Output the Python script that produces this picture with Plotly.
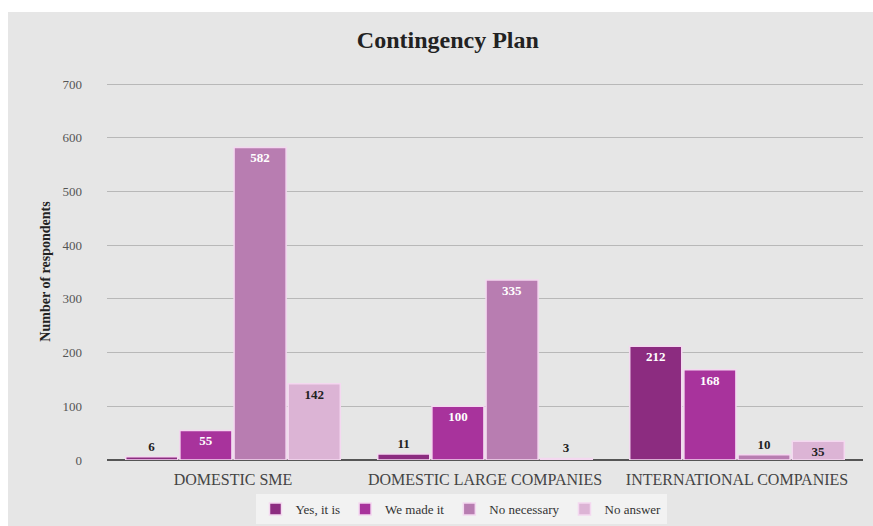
import plotly.graph_objects as go

categories = ["DOMESTIC SME", "DOMESTIC LARGE COMPANIES", "INTERNATIONAL COMPANIES"]
series_names = ["Yes, it is", "We made it", "No necessary", "No answer"]
yes_it_is = [6, 11, 212]
we_made_it = [55, 100, 168]
no_necessary = [582, 335, 10]
no_answer = [142, 3, 35]
y_ticks = [0, 100, 200, 300, 400, 500, 600, 700]

series_values = [yes_it_is, we_made_it, no_necessary, no_answer]
colors = ["#8c2c80", "#a8339c", "#b87db1", "#dcb4d5"]
label_dark = "#222222"
label_light = "#ffffff"

W, H = 873, 526
ml, mr, mt, mb = 107, 10, 83, 66

fig = go.Figure()
for name, vals, col in zip(series_names, series_values, colors):
    positions = []
    fcolors = []
    for v in vals:
        if v < 30:
            positions.append("outside")
            fcolors.append(label_dark)
        else:
            positions.append("inside")
            fcolors.append(label_dark if col == "#dcb4d5" else label_light)
    fig.add_trace(go.Bar(
        x=categories, y=vals, name=name,
        marker=dict(color=col, line=dict(color="#f4d8f0", width=1.5)),
        text=["<b>%d</b>" % v for v in vals],
        textposition=positions,
        textangle=0,
        insidetextanchor="end",
        constraintext="none",
        textfont=dict(family="Liberation Serif", size=13, color=fcolors),
        outsidetextfont=dict(family="Liberation Serif", size=13, color=label_dark),
        cliponaxis=False,
    ))

pw = W - ml - mr
ph = H - mt - mb
def px_x(p):
    return (p - ml) / pw
def px_y(p):
    return (H - mb - p) / ph

fig.add_shape(type="rect", xref="paper", yref="paper",
              x0=px_x(8), x1=px_x(880), y0=px_y(530), y1=px_y(12),
              fillcolor="#e6e6e6", line=dict(width=0), layer="below")

fig.update_layout(
    width=W, height=H,
    margin=dict(l=ml, r=mr, t=mt, b=mb),
    paper_bgcolor="#ffffff",
    plot_bgcolor="rgba(0,0,0,0)",
    barmode="group",
    bargap=0.14,
    bargroupgap=0.04,
    title=dict(text="<b>Contingency Plan</b>", x=0.513, xanchor="center",
               y=1 - 40 / H, yanchor="middle",
               font=dict(family="Liberation Serif", size=24, color="#222222")),
    font=dict(family="Liberation Serif", color="#333333"),
    showlegend=True,
    legend=dict(orientation="h", xref="container", yref="container",
                x=461 / W, xanchor="center", y=1 - 509 / H, yanchor="middle",
                bgcolor="#f2f2f2", font=dict(family="Liberation Serif", size=13, color="#333333"),
                itemwidth=30, traceorder="normal"),
    xaxis=dict(showgrid=False, showline=False, ticks="", ticklabelstandoff=8, automargin=False,
               tickfont=dict(family="Liberation Serif", size=16, color="#444444")),
    yaxis=dict(range=[0, 702], tickvals=y_ticks, showgrid=True, gridcolor="#b8b8b8", gridwidth=1,
               zeroline=True, zerolinecolor="#555555", zerolinewidth=1.5, automargin=False,
               tickfont=dict(family="Liberation Serif", size=13, color="#555555"),
               ticklabelstandoff=24,
               title=dict(text="<b>Number of respondents</b>", standoff=8,
                          font=dict(family="Liberation Serif", size=14, color="#222222"))),
)

fig.write_html("out.html")
